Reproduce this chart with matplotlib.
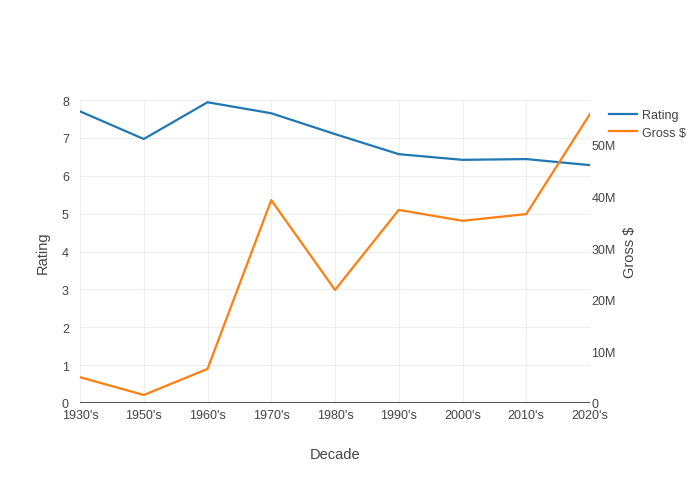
import matplotlib
matplotlib.use("Agg")
import matplotlib.pyplot as plt
from matplotlib.ticker import FuncFormatter

plt.rcParams["font.family"] = ["Liberation Sans", "DejaVu Sans"]

decades = ["1930's", "1950's", "1960's", "1970's", "1980's",
           "1990's", "2000's", "2010's", "2020's"]
rating = [7.70, 6.97, 7.94, 7.65, 7.10, 6.57, 6.42, 6.44, 6.28]
gross = [5.0e6, 1.55e6, 6.6e6, 39.3e6, 21.9e6, 37.4e6, 35.3e6, 36.6e6, 56.0e6]

text_color = "#444444"
grid_color = "#eeeeee"

fig = plt.figure(figsize=(7, 4.85), dpi=100)
ax = fig.add_axes([80 / 700, 81 / 485, 510 / 700, 303 / 485])
ax2 = ax.twinx()

x = list(range(len(decades)))
l1, = ax.plot(x, rating, color="#1f77b4", lw=1.6, label="Rating")
l2, = ax2.plot(x, gross, color="#ff7f0e", lw=1.6, label="Gross $")

ax.set_xlim(0, len(decades) - 1)
ax.set_ylim(0, 8)
ax2.set_ylim(0, 58.7e6)

ax.set_xticks(x)
ax.set_xticklabels(decades)
ax.set_yticks(range(0, 9))
ax2.set_yticks([0, 10e6, 20e6, 30e6, 40e6, 50e6])
ax2.yaxis.set_major_formatter(FuncFormatter(lambda v, p: "0" if v == 0 else f"{int(v / 1e6)}M"))

ax.grid(True, color=grid_color, lw=0.8)
ax.set_axisbelow(True)
for a in (ax, ax2):
    for s in a.spines.values():
        s.set_visible(False)
    a.tick_params(length=0, labelsize=9, colors=text_color)
ax.tick_params(axis="y", pad=8)
ax.tick_params(axis="x", pad=4)
ax2.tick_params(axis="y", pad=1)
ax.axhline(0, color="#555555", lw=1.5, zorder=3)

ax.set_xlabel("Decade", fontsize=10.5, color=text_color, labelpad=19)
ax.set_ylabel("Rating", fontsize=10.5, color=text_color, labelpad=9)
ax2.set_ylabel("Gross $", fontsize=10.5, color=text_color, labelpad=5)

fig.legend(handles=[l1, l2], loc="upper left", bbox_to_anchor=(604 / 700, 1 - 105 / 485),
           frameon=False, fontsize=9, labelcolor=text_color, handlelength=2.2,
           handletextpad=0.45, labelspacing=0.45, borderaxespad=0)

fig.savefig("out.png", dpi=100, facecolor="white")
